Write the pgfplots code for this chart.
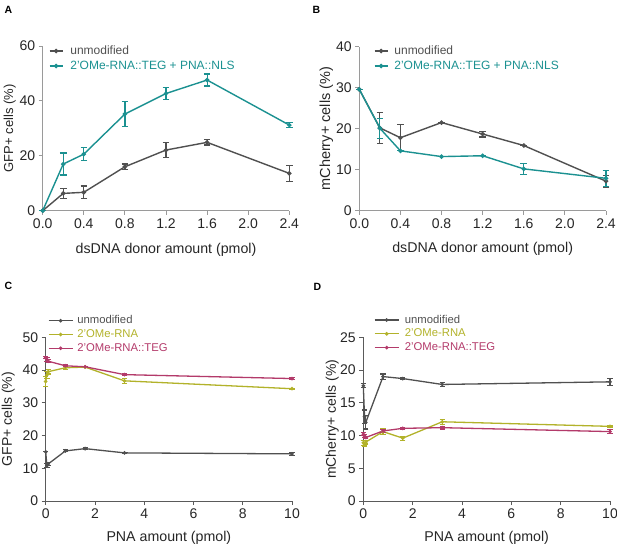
\documentclass[border=0pt]{standalone}
\usepackage{pgfplots}
\pgfplotsset{compat=1.18}
\usepackage{fontspec}
\setmainfont{Liberation Sans}
\definecolor{cgray}{HTML}{505050}
\definecolor{cteal}{HTML}{1B9191}
\definecolor{colive}{HTML}{B2B22A}
\definecolor{cmag}{HTML}{B33A6A}
\definecolor{caxis}{HTML}{9A9A9A}
\definecolor{caxisd}{HTML}{5A5A5A}
\pgfplotsset{
  panel/.style={
    scale only axis,
    axis x line*=bottom, axis y line*=left,
    axis line style={#1, line width=0.9pt},
    tick style={#1, line width=0.9pt},
    tick align=outside, major tick length=4pt,
    x tick label style={font=\fontsize{14}{14}\selectfont, text=black!85},
    y tick label style={font=\fontsize{14}{14}\selectfont, text=black!85},
    /pgf/number format/assume math mode=true,
    legend cell align=left,
    clip=false,
  },
  panel/.default=caxis,
  xlab/.style={every axis x label/.style={at={(axis description cs:0.5,0)}, anchor=center, yshift=-#1,
      font=\fontsize{14.2}{14.2}\selectfont, text=black!85}},
  ylab/.style 2 args={every axis y label/.style={at={(axis description cs:0,0.5)}, xshift=-#1, anchor=center, rotate=90,
      font=\fontsize{#2}{#2}\selectfont, text=black!85}},
  legAB/.style={legend style={draw=none, fill=none, font=\fontsize{12}{12}\selectfont,
      inner sep=0pt, outer sep=0pt, row sep=3pt,
      nodes={inner sep=0pt, text height=9pt, text depth=3pt},
      /tikz/every odd column/.append style={column sep=#1}},
    legend image code/.code={\draw[mark repeat=2, mark phase=2] plot coordinates {(0pt,0pt) (6.5pt,0pt) (13pt,0pt)};}},
  legCD/.style={legend style={draw=none, fill=none, font=\fontsize{11.3}{11.3}\selectfont,
      inner sep=0pt, outer sep=0pt, row sep=2.8pt,
      nodes={inner sep=0pt, text height=8.5pt, text depth=2.5pt},
      /tikz/every odd column/.append style={column sep=#1}},
    legend image code/.code={\draw[mark repeat=2, mark phase=2] plot coordinates {(0pt,0pt) (12pt,0pt) (24pt,0pt)};}},
  ser/.style={color=#1, line width=1.4pt, mark=*, mark size=1.5pt,
    mark options={solid, fill=#1},
    error bars/.cd, y dir=both, y explicit,
    error bar style={line width=1.2pt, #1},
    error mark options={rotate=90, mark size=3.3pt, line width=1.2pt, #1}},
  serc/.style={color=#1, line width=1.3pt, mark=*, mark size=1.1pt,
    mark options={solid, fill=#1},
    error bars/.cd, y dir=both, y explicit,
    error bar style={line width=1.1pt, #1},
    error mark options={rotate=90, mark size=2.6pt, line width=1.1pt, #1}},
}
\begin{document}
\begin{tikzpicture}[x=1pt,y=1pt]
\path[use as bounding box] (0,0) rectangle (617,547);
\node[anchor=north west, font=\bfseries\fontsize{10.5}{10.5}\selectfont] at (1,544) {A};
\node[anchor=north west, font=\bfseries\fontsize{10.5}{10.5}\selectfont] at (309,544) {B};
\node[anchor=north west, font=\bfseries\fontsize{10.5}{10.5}\selectfont] at (1,268) {C};
\node[anchor=north west, font=\bfseries\fontsize{10.5}{10.5}\selectfont] at (310,267) {D};

% ---------- A ----------
\begin{axis}[panel, xlab=39pt, ylab={33pt}{13}, legAB=7pt,
  at={(42.7pt,336.3pt)}, anchor=south west,
  width=246.6pt, height=164.7pt,
  xmin=0, xmax=2.4, ymin=0, ymax=60,
  xtick={0,0.4,0.8,1.2,1.6,2.0,2.4},
  xticklabel style={/pgf/number format/.cd, fixed, fixed zerofill, precision=1},
  ytick={0,20,40,60},
  xlabel={dsDNA donor amount (pmol)},
  ylabel={GFP+ cells (\%)},
  legend style={at={(axis cs:0.061,60.36)}, anchor=north west},
]
\addplot+[ser=cgray] coordinates {
 (0,0) +- (0,0)
 (0.2,6.3) +- (0,1.8)
 (0.4,6.7) +- (0,2.3)
 (0.8,16.0) +- (0,1.0)
 (1.2,22.1) +- (0,2.7)
 (1.6,24.9) +- (0,1.0)
 (2.4,13.6) +- (0,2.9)
};
\addlegendentry{\textcolor{cgray}{unmodified}}
\addplot+[ser=cteal] coordinates {
 (0,0) +- (0,0)
 (0.2,17.0) +- (0,4.0)
 (0.4,20.6) +- (0,2.4)
 (0.8,35.2) +- (0,4.6)
 (1.2,42.7) +- (0,2.2)
 (1.6,47.6) +- (0,2.2)
 (2.4,31.2) +- (0,0.9)
};
\addlegendentry{\textcolor{cteal}{2'OMe-RNA::TEG + PNA::NLS}}
\end{axis}

% ---------- B ----------
\begin{axis}[panel, xlab=38pt, ylab={33pt}{14.5}, legAB=6pt,
  at={(359.3pt,336.3pt)}, anchor=south west,
  width=246.7pt, height=164pt,
  xmin=0, xmax=2.4, ymin=0, ymax=40,
  xtick={0,0.4,0.8,1.2,1.6,2.0,2.4},
  xticklabel style={/pgf/number format/.cd, fixed, fixed zerofill, precision=1},
  ytick={0,10,20,30,40},
  xlabel={dsDNA donor amount (pmol)},
  ylabel={mCherry+ cells (\%)},
  legend style={at={(axis cs:0.143,40.41)}, anchor=north west},
]
\addplot+[ser=cgray] coordinates {
 (0,29.6) +- (0,0)
 (0.2,20.2) +- (0,3.8)
 (0.4,17.8) +- (0,3.2)
 (0.8,21.5) +- (0,0)
 (1.2,18.7) +- (0,0.7)
 (1.6,15.9) +- (0,0)
 (2.4,7.2) +- (0,1.4)
};
\addlegendentry{\textcolor{cgray}{unmodified}}
\addplot+[ser=cteal] coordinates {
 (0,29.6) +- (0,0)
 (0.2,20.1) +- (0,2.4)
 (0.4,14.6) +- (0,0)
 (0.8,13.2) +- (0,0)
 (1.2,13.4) +- (0,0)
 (1.6,10.2) +- (0,1.4)
 (2.4,7.9) +- (0,1.9)
};
\addlegendentry{\textcolor{cteal}{2'OMe-RNA::TEG + PNA::NLS}}
\end{axis}

% ---------- C ----------
\begin{axis}[panel=caxisd, xlab=37pt, ylab={37.5pt}{14}, legCD=4pt,
  at={(45.7pt,46pt)}, anchor=south west,
  width=246.3pt, height=163.7pt,
  xmin=0, xmax=10, ymin=0, ymax=50,
  xtick={0,2,4,6,8,10},
  ytick={0,10,20,30,40,50},
  xlabel={PNA amount (pmol)},
  ylabel={GFP+ cells (\%)},
  legend style={at={(axis cs:0.093,56.75)}, anchor=north west},
]
\addplot+[serc=cgray] coordinates {
 (0,15.0) +- (0,0)
 (0.05,10.8) +- (0,0.6)
 (0.1,11.3) +- (0,0.5)
 (0.8,15.3) +- (0,0.3)
 (1.6,16.0) +- (0,0.3)
 (3.2,14.7) +- (0,0.2)
 (10,14.4) +- (0,0.5)
};
\addlegendentry{\textcolor{cgray}{unmodified}}
\addplot+[serc=colive] coordinates {
 (0,36.5) +- (0,1.5)
 (0.05,38.5) +- (0,1.0)
 (0.1,39.5) +- (0,0.7)
 (0.8,40.7) +- (0,0.6)
 (1.6,40.9) +- (0,0.2)
 (3.2,36.7) +- (0,0.8)
 (10,34.3) +- (0,0.2)
};
\addlegendentry{\textcolor{colive}{2'OMe-RNA}}
\addplot+[serc=cmag] coordinates {
 (0,43.8) +- (0,0.3)
 (0.05,43.2) +- (0,0.5)
 (0.1,42.7) +- (0,0.4)
 (0.8,41.3) +- (0,0.3)
 (1.6,41.0) +- (0,0.2)
 (3.2,38.6) +- (0,0.2)
 (10,37.4) +- (0,0.2)
};
\addlegendentry{\textcolor{cmag}{2'OMe-RNA::TEG}}
\end{axis}

% ---------- D ----------
\begin{axis}[panel=caxisd, xlab=37pt, ylab={31pt}{14}, legCD=5.5pt,
  at={(363.3pt,46pt)}, anchor=south west,
  width=246.7pt, height=163.7pt,
  xmin=0, xmax=10, ymin=0, ymax=25,
  xtick={0,2,4,6,8,10},
  ytick={0,5,10,15,20,25},
  xlabel={PNA amount (pmol)},
  ylabel={mCherry+ cells (\%)},
  legend style={at={(axis cs:0.434,28.48)}, anchor=north west},
]
\addplot+[serc=cgray] coordinates {
 (0,17.6) +- (0,0.3)
 (0.05,12.9) +- (0,1.0)
 (0.1,12.0) +- (0,1.0)
 (0.8,19.0) +- (0,0.4)
 (1.6,18.7) +- (0,0.1)
 (3.2,17.8) +- (0,0.3)
 (10,18.2) +- (0,0.5)
};
\addlegendentry{\textcolor{cgray}{unmodified}}
\addplot+[serc=colive] coordinates {
 (0,8.9) +- (0,0.4)
 (0.05,8.7) +- (0,0.3)
 (0.1,9.0) +- (0,0.3)
 (0.8,10.6) +- (0,0.5)
 (1.6,9.6) +- (0,0.3)
 (3.2,12.1) +- (0,0.4)
 (10,11.4) +- (0,0.1)
};
\addlegendentry{\textcolor{colive}{2'OMe-RNA}}
\addplot+[serc=cmag] coordinates {
 (0,10.2) +- (0,0.2)
 (0.05,9.9) +- (0,0.2)
 (0.1,9.7) +- (0,0.2)
 (0.8,10.7) +- (0,0.2)
 (1.6,11.1) +- (0,0.1)
 (3.2,11.2) +- (0,0.2)
 (10,10.6) +- (0,0.3)
};
\addlegendentry{\textcolor{cmag}{2'OMe-RNA::TEG}}
\end{axis}
\end{tikzpicture}
\end{document}
